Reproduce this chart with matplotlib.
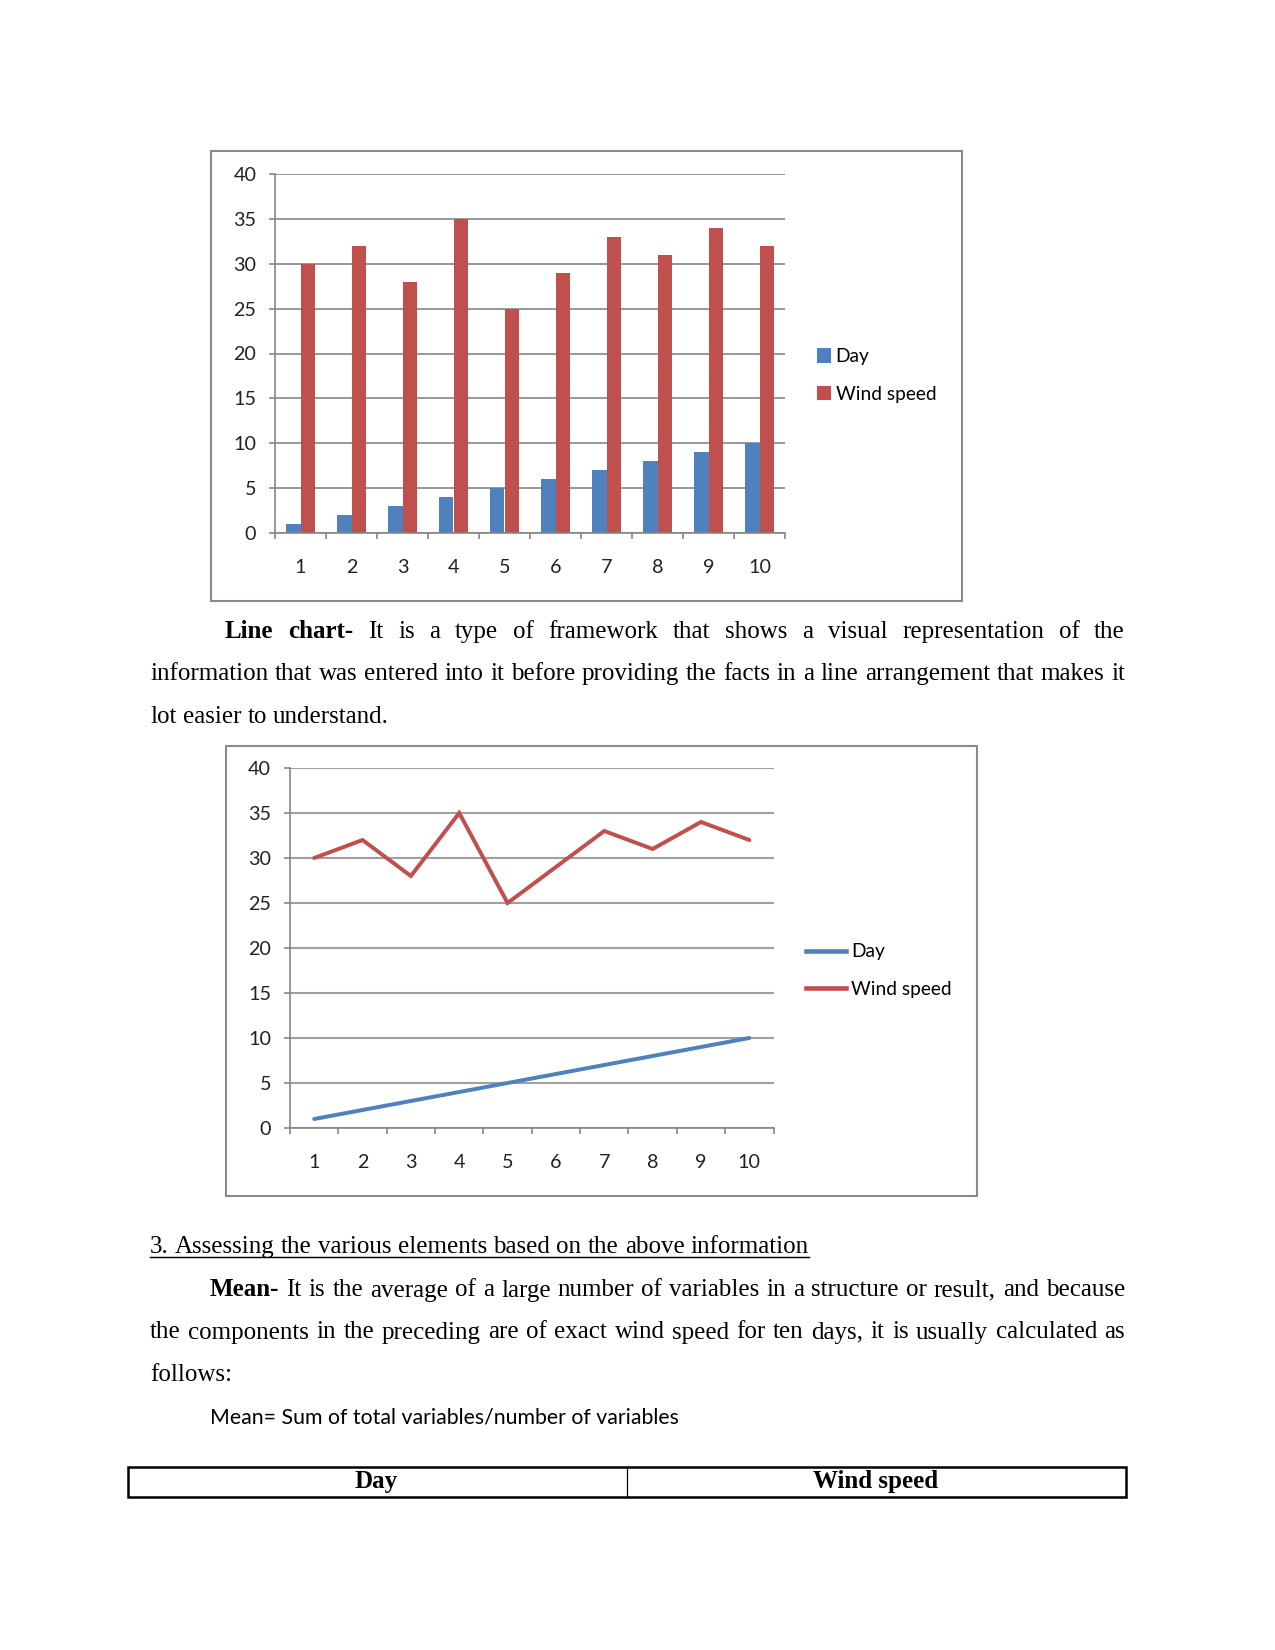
import numpy as np
import matplotlib
matplotlib.use('Agg')
import matplotlib.pyplot as plt
from matplotlib.patches import Rectangle, Patch
from matplotlib.lines import Line2D

W, H = 1275, 1650

days = [1, 2, 3, 4, 5, 6, 7, 8, 9, 10]
day_vals = [1, 2, 3, 4, 5, 6, 7, 8, 9, 10]
wind_speed = [30, 32, 28, 35, 25, 29, 33, 31, 34, 32]
y_ticks = [0, 5, 10, 15, 20, 25, 30, 35, 40]
series_names = ['Day', 'Wind speed']

BLUE = '#4F81BD'
RED = '#C0504D'
GRID = '#868686'
CHART_FONT = 'Lato'
SERIF = 'Liberation Serif'

fig = plt.figure(figsize=(W / 150, H / 150), dpi=150)
renderer = fig.canvas.get_renderer()


def fx(x):
    return x / W


def fy(y):
    return 1 - y / H


def add_ax(left, top, right, bottom):
    return fig.add_axes([fx(left), fy(bottom), (right - left) / W, (bottom - top) / H])


def frame(left, top, right, bottom):
    fig.patches.append(Rectangle((fx(left), fy(bottom)), (right - left) / W, (bottom - top) / H,
                                 transform=fig.transFigure, fill=False, edgecolor='#8a8a8a', lw=1.0))


def style_chart(ax):
    ax.set_xlim(0.5, 10.5)
    ax.set_ylim(0, 40)
    ax.set_yticks(y_ticks)
    ax.set_yticklabels([str(v) for v in y_ticks], fontfamily=CHART_FONT, fontsize=9.5, color='#222222')
    ax.set_xticks(np.arange(0.5, 11, 1))
    ax.set_xticklabels([])
    ax.set_xticks(days, minor=True)
    ax.set_xticklabels([str(d) for d in days], minor=True, fontfamily=CHART_FONT, fontsize=9.5, color='#222222')
    ax.tick_params(axis='x', which='major', length=3, color=GRID, width=0.8, direction='out')
    ax.tick_params(axis='x', which='minor', length=0, pad=12.5)
    ax.tick_params(axis='y', length=3, color=GRID, width=0.8, pad=6)
    ax.yaxis.grid(True, color=GRID, lw=0.8)
    ax.set_axisbelow(True)
    for s in ['top', 'right']:
        ax.spines[s].set_visible(False)
    for s in ['left', 'bottom']:
        ax.spines[s].set_color(GRID)
        ax.spines[s].set_linewidth(0.8)
    ax.patch.set_alpha(0)


# ---- bar chart
frame(211, 151, 962, 601)
ax1 = add_ax(275, 174, 785, 533)
w = 0.286
x = np.array(days)
ax1.bar(x - w / 2, day_vals, w, color=BLUE, label=series_names[0])
ax1.bar(x + w / 2, wind_speed, w, color=RED, label=series_names[1])
style_chart(ax1)
ax1.legend(handles=[Patch(color=BLUE), Patch(color=RED)], labels=series_names,
           loc='center left', bbox_to_anchor=(fx(818), fy(375.5)), bbox_transform=fig.transFigure,
           frameon=False, borderpad=0, borderaxespad=0, handlelength=0.62, handleheight=0.62,
           handletextpad=0.3, labelspacing=1.05, prop={'family': CHART_FONT, 'size': 9.2})

# ---- line chart
frame(226, 746, 977, 1196)
ax2 = add_ax(290, 768, 773.5, 1128)
ax2.plot(days, day_vals, color=BLUE, lw=1.9, solid_capstyle='round')
ax2.plot(days, wind_speed, color=RED, lw=1.9, solid_capstyle='round', solid_joinstyle='miter')
style_chart(ax2)
ax2.yaxis.grid(True, color='#a0a0a0', lw=1.0)
ax2.legend(handles=[Line2D([], [], color=BLUE, lw=2.2), Line2D([], [], color=RED, lw=2.2)],
           labels=series_names, loc='center left', bbox_to_anchor=(fx(806), fy(970.5)),
           bbox_transform=fig.transFigure, frameon=False, borderpad=0, borderaxespad=0,
           handlelength=2.1, handletextpad=0.25, labelspacing=1.05,
           prop={'family': CHART_FONT, 'size': 9.2})


# ---- body text
def draw_line(words, x0, x1, y, justify, nbold=0, size=12):
    items = []
    for i, word in enumerate(words):
        t = fig.text(fx(x0), fy(y), word, fontfamily=SERIF, fontsize=size,
                     fontweight='bold' if i < nbold else 'normal', va='baseline', ha='left')
        items.append((t, t.get_window_extent(renderer).width))
    space = fig.text(0, 0, 'a a', fontfamily=SERIF, fontsize=size)
    sp = space.get_window_extent(renderer).width
    space.set_text('aa')
    sp -= space.get_window_extent(renderer).width
    space.remove()
    total = sum(wd for _, wd in items)
    gap = (x1 - x0 - total) / (len(items) - 1) if justify and len(items) > 1 else sp
    cur = x0
    for t, wd in items:
        t.set_x(fx(cur))
        cur += wd + gap
    return cur - gap


LEFT, RIGHT = 150, 1125

para1 = [
    "Line chart- It is a type of framework that shows a visual representation of the",
    "information that was entered into it before providing the facts in a line arrangement that makes it",
    "lot easier to understand.",
]
draw_line(para1[0].split(), 225, RIGHT, 638, True, nbold=2)
draw_line(para1[1].split(), LEFT, RIGHT, 680.5, True)
draw_line(para1[2].split(), LEFT, RIGHT, 723, False)

heading = "3. Assessing the various elements based on the above information"
end = draw_line(heading.split(), LEFT, RIGHT, 1253, False)
fig.add_artist(Line2D([fx(LEFT), fx(end)], [fy(1256.5), fy(1256.5)], color='black', lw=0.7))

para2 = [
    "Mean- It is the average of a large number of variables in a structure or result, and because",
    "the components in the preceding are of exact wind speed for ten days, it is usually calculated as",
    "follows:",
]
draw_line(para2[0].split(), 210, RIGHT, 1296.5, True, nbold=1)
draw_line(para2[1].split(), LEFT, RIGHT, 1338.5, True)
draw_line(para2[2].split(), LEFT, RIGHT, 1381, False)

fig.text(fx(210), fy(1423), "Mean= Sum of total variables/number of variables",
         fontfamily=CHART_FONT, fontsize=10.2, va='baseline')

# ---- table header
fig.patches.append(Rectangle((fx(127.5), fy(1496.5)), (1125.5 - 127.5) / W, (1496.5 - 1467) / H,
                             transform=fig.transFigure, fill=False, edgecolor='black', lw=1.2))
fig.add_artist(Line2D([fx(627), fx(627)], [fy(1467), fy(1496.5)], color='black', lw=0.6))
fig.text(fx(376.5), fy(1488), "Day", fontfamily=SERIF, fontsize=12, fontweight='bold',
         ha='center', va='baseline')
fig.text(fx(875.5), fy(1488), "Wind speed", fontfamily=SERIF, fontsize=12, fontweight='bold',
         ha='center', va='baseline')

fig.savefig('out.png', dpi=150, facecolor='white')
